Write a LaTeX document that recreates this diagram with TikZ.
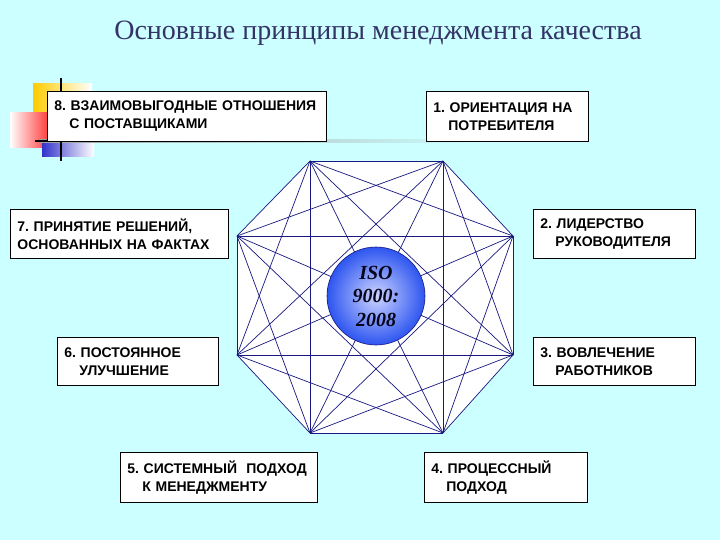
\documentclass[tikz,border=0pt]{standalone}
\usepackage{fontspec}
\setmainfont{Liberation Serif}
\newfontfamily\arialfont{Liberation Sans}
\usepackage{xcolor}
\usepackage{tikz}
\definecolor{bgcyan}{RGB}{204,255,255}
\definecolor{navy}{RGB}{24,24,128}
\definecolor{titleblue}{RGB}{51,51,102}
\definecolor{isoblue}{RGB}{45,85,240}
\definecolor{isolight}{RGB}{205,212,255}
\definecolor{tmplyellow}{RGB}{255,204,0}
\definecolor{tmplred}{RGB}{255,51,51}
\definecolor{tmplblue}{RGB}{51,51,204}
\newcommand{\subind}{\hspace*{15pt}}
\frenchspacing

\begin{document}
\begin{tikzpicture}[x=1pt, y=-1pt,
  prin/.style={draw=black, fill=white, line width=0.8pt, anchor=north west,
    inner xsep=7pt, inner ysep=0pt, align=left,
    font=\arialfont\bfseries\fontsize{14}{17.8}\selectfont},
  web/.style={navy, line width=0.7pt}]
\useasboundingbox (0,0) rectangle (720,540);
\fill[bgcyan] (0,0) rectangle (720,540);
% ---- title
\node[font=\fontsize{28}{32}\selectfont, text=titleblue] (title) at (378,33)
  {Основные принципы менеджмента качества};
% ---- template squares, top left
\shade[left color=tmplyellow, right color=white] (33,84) rectangle (92,114);
\shade[left color=white, right color=tmplred] (10,113) rectangle (50,148);
\shade[left color=tmplblue, right color=white] (42,141) rectangle (94,157);
\shade[left color=gray!75, right color=bgcyan] (40,139.5) rectangle (490,142.5);
\draw[line width=2pt] (61,78) -- (61,161);
\draw[line width=2pt] (35,141) -- (326,141);
% ---- octagon with all its diagonals
\coordinate (v1) at (310,161);
\coordinate (v2) at (443,161);
\coordinate (v3) at (513,236);
\coordinate (v4) at (513,355);
\coordinate (v5) at (443,433);
\coordinate (v6) at (310,433);
\coordinate (v7) at (237,355);
\coordinate (v8) at (237,236);
\fill[white] (v1) -- (v2) -- (v3) -- (v4) -- (v5) -- (v6) -- (v7) -- (v8) -- cycle;
\foreach \i in {1,...,7} {
  \pgfmathtruncatemacro\nxt{\i+1}
  \foreach \j in {\nxt,...,8}
    \draw[web] (v\i) -- (v\j);
}
% ---- centre
\node[circle, minimum size=98pt, draw=navy, line width=0.6pt,
  inner color=isolight, outer color=isoblue, align=center, inner sep=0pt,
  text=black!80!navy,
  font=\itshape\bfseries\fontsize{20}{23.5}\selectfont] (iso) at (376,296)
  {ISO\\9000:\\2008};
% ---- principles
\node[prin, text width=265pt, minimum height=50pt] (p8) at (47,91)
  {8. ВЗАИМОВЫГОДНЫЕ ОТНОШЕНИЯ\\\subind С ПОСТАВЩИКАМИ};
\node[prin, text width=148pt, minimum height=50pt] (p1) at (426,91)
  {1. ОРИЕНТАЦИЯ НА\\\subind ПОТРЕБИТЕЛЯ};
\node[prin, text width=204pt, minimum height=49pt] (p7) at (10,209)
  {7. ПРИНЯТИЕ РЕШЕНИЙ,\\ОСНОВАННЫХ НА ФАКТАХ};
\node[prin, text width=148pt, minimum height=49pt] (p2) at (533,209)
  {2. ЛИДЕРСТВО\\\subind РУКОВОДИТЕЛЯ};
\node[prin, text width=147pt, minimum height=48pt] (p6) at (57,337)
  {6. ПОСТОЯННОЕ\\\subind УЛУЧШЕНИЕ};
\node[prin, text width=148pt, minimum height=48pt] (p3) at (533,337)
  {3. ВОВЛЕЧЕНИЕ\\\subind РАБОТНИКОВ};
\node[prin, text width=183pt, minimum height=50pt] (p5) at (120,452)
  {5. СИСТЕМНЫЙ~ ПОДХОД\\\subind К МЕНЕДЖМЕНТУ};
\node[prin, text width=149pt, minimum height=50pt] (p4) at (424,452)
  {4. ПРОЦЕССНЫЙ\\\subind ПОДХОД};
\end{tikzpicture}
\end{document}
